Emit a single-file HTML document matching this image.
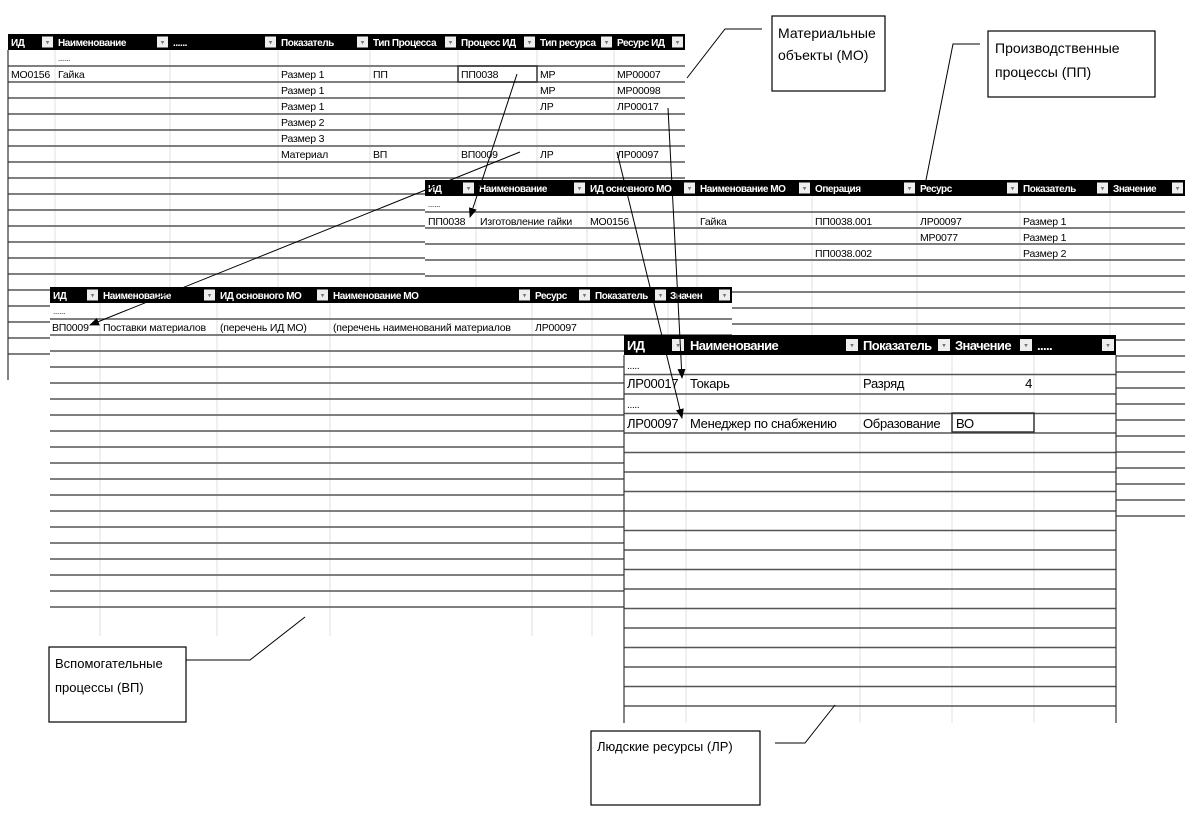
<!DOCTYPE html>
<html><head><meta charset="utf-8"><style>
html,body{margin:0;padding:0;background:#fff;}
svg{display:block;}
text{font-family:"Liberation Sans Narrow","Liberation Sans","DejaVu Sans",sans-serif;}
.h{fill:#fff;font-weight:bold;font-size:10px;letter-spacing:-0.45px;}
.d{fill:#000;font-size:10.5px;letter-spacing:-0.2px;}
.hl{fill:#fff;font-weight:bold;font-size:13px;letter-spacing:-0.6px;}
.dl{fill:#000;font-size:13px;letter-spacing:-0.3px;}
.c{fill:#000;font-size:14px;font-family:"Liberation Sans",sans-serif;}
</style></head><body>
<svg id="s" width="1202" height="817" viewBox="0 0 1202 817" xmlns="http://www.w3.org/2000/svg">
<defs><marker id="a" markerWidth="10" markerHeight="8" refX="9" refY="4" orient="auto" markerUnits="userSpaceOnUse"><path d="M0,0 L10,4 L0,8 z" fill="#000"/></marker></defs>
<g id="mo"></g>
<g id="motext">
<text class="h" x="11" y="46">ИД</text><text class="h" x="58" y="46">Наименование</text><text class="h" x="173" y="46">......</text><text class="h" x="281" y="46">Показатель</text><text class="h" x="373" y="46">Тип Процесса</text><text class="h" x="461" y="46">Процесс ИД</text><text class="h" x="540" y="46">Тип ресурса</text><text class="h" x="617" y="46">Ресурс ИД</text>
<text class="d" x="58" y="61" style="font-size:8px">......</text>
<text class="d" x="11" y="78">МО0156</text><text class="d" x="58" y="78">Гайка</text><text class="d" x="281" y="78">Размер 1</text><text class="d" x="373" y="78">ПП</text><text class="d" x="461" y="78">ПП0038</text><text class="d" x="540" y="78">МР</text><text class="d" x="617" y="78">МР00007</text>
<text class="d" x="281" y="94">Размер 1</text><text class="d" x="540" y="94">МР</text><text class="d" x="617" y="94">МР00098</text>
<text class="d" x="281" y="110">Размер 1</text><text class="d" x="540" y="110">ЛР</text><text class="d" x="617" y="110">ЛР00017</text>
<text class="d" x="281" y="126">Размер 2</text>
<text class="d" x="281" y="142">Размер 3</text>
<text class="d" x="281" y="158">Материал</text><text class="d" x="373" y="158">ВП</text><text class="d" x="461" y="158">ВП0009</text><text class="d" x="540" y="158">ЛР</text><text class="d" x="617" y="158">ЛР00097</text>
<rect x="458" y="66" width="79" height="16" fill="none" stroke="#333" stroke-width="1.5"/>
</g>
<g id="pp"></g>
<g>
<text class="h" x="428" y="192">ИД</text><text class="h" x="479" y="192">Наименование</text><text class="h" x="590" y="192">ИД основного МО</text><text class="h" x="700" y="192">Наименование МО</text><text class="h" x="815" y="192">Операция</text><text class="h" x="920" y="192">Ресурс</text><text class="h" x="1023" y="192">Показатель</text><text class="h" x="1113" y="192">Значение</text>
<text class="d" x="428" y="207" style="font-size:8px">......</text>
<text class="d" x="428" y="225">ПП0038</text><text class="d" x="480" y="225">Изготовление гайки</text><text class="d" x="590" y="225">МО0156</text><text class="d" x="700" y="225">Гайка</text><text class="d" x="815" y="225">ПП0038.001</text><text class="d" x="920" y="225">ЛР00097</text><text class="d" x="1023" y="225">Размер 1</text>
<text class="d" x="920" y="241">МР0077</text><text class="d" x="1023" y="241">Размер 1</text>
<text class="d" x="815" y="257">ПП0038.002</text><text class="d" x="1023" y="257">Размер 2</text>
</g>
<g id="vp"></g>
<g>
<text class="h" x="53" y="299">ИД</text><text class="h" x="103" y="299">Наименование</text><text class="h" x="220" y="299">ИД основного МО</text><text class="h" x="333" y="299">Наименование МО</text><text class="h" x="535" y="299">Ресурс</text><text class="h" x="595" y="299">Показатель</text><text class="h" x="670" y="299">Значен</text>
<text class="d" x="53" y="314" style="font-size:8px">......</text>
<text class="d" x="52" y="331">ВП0009</text><text class="d" x="103" y="331">Поставки материалов</text><text class="d" x="220" y="331">(перечень ИД МО)</text><text class="d" x="333" y="331">(перечень наименований материалов</text><text class="d" x="535" y="331">ЛР00097</text>
</g>
<g id="lr"></g>
<g>
<text class="hl" x="627" y="350">ИД</text><text class="hl" x="690" y="350">Наименование</text><text class="hl" x="863" y="350">Показатель</text><text class="hl" x="955" y="350">Значение</text><text class="hl" x="1037" y="350">.....</text>
<text class="dl" x="627" y="369" style="font-size:10px">.....</text>
<text class="dl" x="627" y="388">ЛР00017</text><text class="dl" x="690" y="388">Токарь</text><text class="dl" x="863" y="388">Разряд</text><text class="dl" x="1032" y="388" text-anchor="end">4</text>
<text class="dl" x="627" y="408" style="font-size:10px">.....</text>
<text class="dl" x="627" y="428">ЛР00097</text><text class="dl" x="690" y="428">Менеджер по снабжению</text><text class="dl" x="863" y="428">Образование</text><text class="dl" x="956" y="428">ВО</text>
<rect x="952" y="413" width="82" height="19" fill="none" stroke="#333" stroke-width="1.5"/>
</g>
<g stroke="#000" stroke-width="1" fill="none">
<line x1="517" y1="74" x2="470" y2="217" marker-end="url(#a)"/>
<line x1="520" y1="152" x2="90" y2="325" marker-end="url(#a)"/>
<line x1="668" y1="108" x2="682" y2="378" marker-end="url(#a)"/>
<line x1="617" y1="152" x2="682" y2="418" marker-end="url(#a)"/>
<polyline points="687,78 725,29 762,29"/>
<polyline points="926,180 953,44 980,44"/>
<polyline points="186,660 250,660 305,617"/>
<polyline points="775,743 805,743 835,705"/>
</g>
<g fill="#fff" stroke="#000" stroke-width="1.2">
<rect x="772" y="16" width="113" height="75"/>
<rect x="988" y="31" width="167" height="66"/>
<rect x="49" y="647" width="137" height="75"/>
<rect x="591" y="731" width="169" height="74"/>
</g>
<text class="c" x="778" y="38">Материальные</text><text class="c" x="778" y="60">объекты (МО)</text>
<text class="c" x="995" y="53">Производственные</text><text class="c" x="995" y="77">процессы (ПП)</text>
<text class="c" x="55" y="668" style="font-size:13px">Вспомогательные</text><text class="c" x="55" y="692" style="font-size:13px">процессы (ВП)</text>
<text class="c" x="597" y="751" style="font-size:13px">Людские ресурсы (ЛР)</text>
</svg>
<script>
var NS="http://www.w3.org/2000/svg";
function el(g,t,a){var e=document.createElementNS(NS,t);for(var k in a)e.setAttribute(k,a[k]);g.appendChild(e);return e;}
function table(id,cols,top,hh,rh,bottom,vb,opts){
 var g=document.getElementById(id);var x0=cols[0],x1=cols[cols.length-1];
 el(g,"rect",{x:x0,y:top,width:x1-x0,height:bottom-top,fill:"#fff"});
 for(var i=1;i<cols.length-1;i++)el(g,"line",{x1:cols[i],y1:top,x2:cols[i],y2:vb,stroke:"#e2e2e2","stroke-width":1});
 for(var y=top+hh+rh;y<=bottom-rh+1;y+=rh)el(g,"line",{x1:x0,y1:y,x2:x1,y2:y,stroke:"#555","stroke-width":1.5});
 el(g,"rect",{x:x0,y:top,width:x1-x0,height:hh,fill:"#000"});
 for(var i=1;i<cols.length;i++){var bx=cols[i]-(opts.bw+2);el(g,"rect",{x:bx,y:top+(hh-opts.bw)/2,width:opts.bw,height:opts.bw,fill:"#eee"});
  var t=el(g,"text",{x:bx+opts.bw/2,y:top+hh/2+2.5,"text-anchor":"middle",fill:"#777","font-size":"7px"});t.textContent="▾";}
 if(opts.lb)el(g,"line",{x1:x0,y1:top+hh,x2:x0,y2:opts.lb,stroke:"#333","stroke-width":1.2});
 if(opts.rb)el(g,"line",{x1:x1,y1:top+hh,x2:x1,y2:opts.rb,stroke:"#333","stroke-width":1.2});
}
table("mo",[8,55,170,278,370,458,537,614,685],34,16,16,380,380,{bw:11,lb:380});
table("pp",[425,476,587,697,812,917,1020,1110,1185],180,16,16,535,535,{bw:11});
table("vp",[50,100,217,330,532,592,668,732],287,16,16,636,636,{bw:11});
table("lr",[624,686,860,952,1034,1116],335,20,19.5,726,723,{bw:12,lb:723,rb:723});
</script>
</body></html>
